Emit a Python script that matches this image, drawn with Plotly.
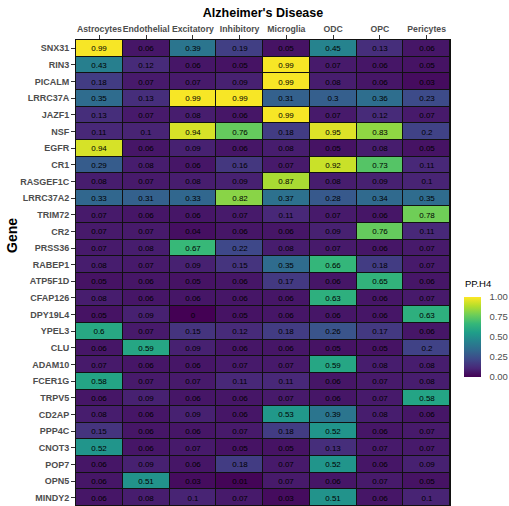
import plotly.graph_objects as go

cell_types = ["Astrocytes", "Endothelial", "Excitatory", "Inhibitory",
              "Microglia", "ODC", "OPC", "Pericytes"]

genes = ["SNX31", "RIN3", "PICALM", "LRRC37A", "JAZF1", "NSF", "EGFR", "CR1",
         "RASGEF1C", "LRRC37A2", "TRIM72", "CR2", "PRSS36", "RABEP1", "ATP5F1D",
         "CFAP126", "DPY19L4", "YPEL3", "CLU", "ADAM10", "FCER1G", "TRPV5",
         "CD2AP", "PPP4C", "CNOT3", "POP7", "OPN5", "MINDY2"]

# PP.H4 per gene (rows) and cell type (columns)
pp_h4 = [
    [0.99, 0.06, 0.39, 0.19, 0.05, 0.45, 0.13, 0.06],
    [0.43, 0.12, 0.06, 0.05, 0.99, 0.07, 0.06, 0.05],
    [0.18, 0.07, 0.07, 0.09, 0.99, 0.08, 0.06, 0.03],
    [0.35, 0.13, 0.99, 0.99, 0.31, 0.3, 0.36, 0.23],
    [0.13, 0.07, 0.08, 0.06, 0.99, 0.07, 0.12, 0.07],
    [0.11, 0.1, 0.94, 0.76, 0.18, 0.95, 0.83, 0.2],
    [0.94, 0.06, 0.09, 0.06, 0.08, 0.05, 0.08, 0.05],
    [0.29, 0.08, 0.06, 0.16, 0.07, 0.92, 0.73, 0.11],
    [0.08, 0.07, 0.08, 0.09, 0.87, 0.08, 0.09, 0.1],
    [0.33, 0.31, 0.33, 0.82, 0.37, 0.28, 0.34, 0.35],
    [0.07, 0.06, 0.06, 0.07, 0.11, 0.07, 0.06, 0.78],
    [0.07, 0.07, 0.04, 0.06, 0.06, 0.09, 0.76, 0.11],
    [0.07, 0.08, 0.67, 0.22, 0.08, 0.07, 0.06, 0.07],
    [0.08, 0.07, 0.09, 0.15, 0.35, 0.66, 0.18, 0.07],
    [0.05, 0.06, 0.05, 0.06, 0.17, 0.06, 0.65, 0.06],
    [0.08, 0.06, 0.06, 0.06, 0.06, 0.63, 0.06, 0.07],
    [0.05, 0.09, 0.0, 0.05, 0.06, 0.06, 0.06, 0.63],
    [0.6, 0.07, 0.15, 0.12, 0.18, 0.26, 0.17, 0.06],
    [0.06, 0.59, 0.09, 0.06, 0.06, 0.05, 0.05, 0.2],
    [0.07, 0.06, 0.06, 0.07, 0.07, 0.59, 0.08, 0.08],
    [0.58, 0.07, 0.07, 0.11, 0.11, 0.06, 0.07, 0.08],
    [0.06, 0.09, 0.06, 0.06, 0.07, 0.06, 0.07, 0.58],
    [0.08, 0.06, 0.09, 0.06, 0.53, 0.39, 0.08, 0.06],
    [0.15, 0.06, 0.06, 0.07, 0.18, 0.52, 0.06, 0.07],
    [0.52, 0.06, 0.07, 0.05, 0.05, 0.13, 0.07, 0.07],
    [0.06, 0.09, 0.06, 0.18, 0.07, 0.52, 0.06, 0.09],
    [0.06, 0.51, 0.03, 0.01, 0.07, 0.06, 0.07, 0.05],
    [0.06, 0.08, 0.1, 0.07, 0.03, 0.51, 0.06, 0.1],
]

colorbar_ticks = [0.0, 0.25, 0.5, 0.75, 1.0]
colorbar_labels = ["0.00", "0.25", "0.50", "0.75", "1.00"]

cell_text = [[f"{v:g}" for v in row] for row in pp_h4]

FONT = "Liberation Sans, Arial, sans-serif"
GREY = "#4d4d4d"

# plot area in pixels
L, R, T, B = 76, 59, 40, 0
W, H = 509, 506
PW, PH = W - L - R, H - T - B


def px_x(x):
    return (x - L) / PW


def px_y(y):
    return (H - B - y) / PH


fig = go.Figure(go.Heatmap(
    z=pp_h4, x=cell_types, y=genes,
    text=cell_text, texttemplate="%{text}",
    textfont=dict(family=FONT, size=8, color="black"),
    colorscale="Viridis", zmin=0, zmax=1,
    xgap=1, ygap=1,
    colorbar=dict(
        x=px_x(464), xanchor="left", xref="paper",
        y=px_y(336.5), yanchor="middle", yref="paper",
        lenmode="pixels", len=80, thickness=17,
        outlinewidth=0, xpad=0, ypad=0,
        tickvals=colorbar_ticks, ticktext=colorbar_labels,
        ticks="outside", ticklen=7, tickcolor="white", tickwidth=1,
        tickfont=dict(family=FONT, size=9.5, color=GREY),
    ),
))

fig.update_layout(
    width=W, height=H,
    margin=dict(l=L, r=R, t=T, b=B, autoexpand=False),
    paper_bgcolor="white",
    plot_bgcolor="#111111",
    font=dict(family=FONT),
    title=dict(text="<b>Alzheimer's Disease</b>", x=263 / W, xanchor="center",
               y=1 - 13 / H, yanchor="middle",
               font=dict(family=FONT, size=12.5, color="black")),
    xaxis=dict(side="top", showgrid=False, zeroline=False, automargin=False,
               tickangle=0, ticks="outside", ticklen=4, tickcolor="#333333",
               tickfont=dict(family=FONT, size=8.7, color=GREY, weight="bold"),
               showline=True, linecolor="#111111", linewidth=1, mirror=True),
    yaxis=dict(autorange="reversed", showgrid=False, zeroline=False, automargin=False,
               ticks="outside", ticklen=4, tickcolor="#333333",
               tickfont=dict(family=FONT, size=9, color=GREY, weight="bold"),
               showline=True, linecolor="#111111", linewidth=1, mirror=True),
    annotations=[
        dict(text="<b>Gene</b>", textangle=-90, showarrow=False,
             xref="paper", yref="paper", x=px_x(12), y=px_y(236),
             xanchor="center", yanchor="middle",
             font=dict(family=FONT, size=14, color="black")),
        dict(text="PP.H4", showarrow=False,
             xref="paper", yref="paper", x=px_x(463), y=px_y(283),
             xanchor="left", yanchor="middle",
             font=dict(family=FONT, size=9.5, color="black")),
    ],
)

fig.write_html("out.html")
